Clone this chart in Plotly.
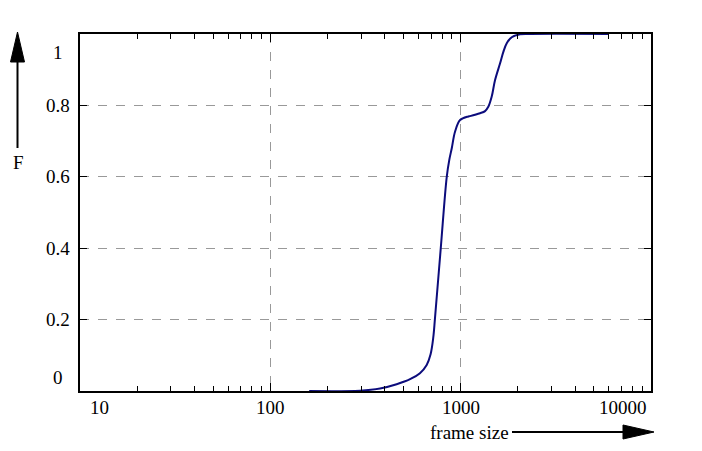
import numpy as np
import plotly.graph_objects as go

frame_size = [160, 296, 377, 461, 542, 611, 663, 695, 718, 733, 786, 845, 872, 898,
              934, 993, 1097, 1119, 1264, 1343, 1397, 1455, 1516, 1611, 1676, 1746,
              1855, 2050, 2312, 6000]
F = [0.0, 0.001, 0.007, 0.019, 0.033, 0.050, 0.073, 0.103, 0.150, 0.204, 0.400,
     0.600, 0.648, 0.680, 0.726, 0.759, 0.769, 0.770, 0.778, 0.784, 0.796, 0.824,
     0.871, 0.918, 0.950, 0.974, 0.991, 0.999, 1.0, 1.0]

x_ticks = [10, 100, 1000, 10000]
x_labels = ["10", "100", "1000", "10000"]
y_ticks = [0, 0.2, 0.4, 0.6, 0.8, 1]
y_labels = ["0", "0.2", "0.4", "0.6", "0.8", "1"]

# page body has an 8px margin, so the figure is a bit smaller than the window
OFF = 8
W, H = 702 - OFF, 451 - OFF
L, R, T, B = 80 - OFF, 51, 34 - OFF, 60
pw, ph = W - L - R, H - T - B
font = dict(family="Liberation Serif, Times New Roman, DejaVu Serif, serif", size=19,
            color="black")


def px(x):
    # window pixel -> paper x
    return (x - OFF - L) / pw


def py(y):
    # window pixel -> paper y
    return (H - B - (y - OFF)) / ph


fig = go.Figure()
fig.add_trace(go.Scatter(x=frame_size, y=F, mode="lines",
                         line=dict(color="#0c0c7c", width=2, shape="spline", smoothing=1.0),
                         showlegend=False, cliponaxis=False))

axis_common = dict(showline=True, linecolor="black", linewidth=2, mirror="ticks",
                   ticks="inside", tickcolor="black", showticklabels=False,
                   gridcolor="#999999", griddash="dash", gridwidth=1, zeroline=False)

fig.update_xaxes(type="log", range=[1, 4], tickvals=x_ticks, ticklen=8, tickwidth=1,
                 minor=dict(ticks="inside", ticklen=5, tickcolor="black", dtick="D1",
                            showgrid=False),
                 **axis_common)
fig.update_yaxes(range=[0, 1], tickvals=y_ticks, ticklen=7, tickwidth=1, **axis_common)

ann = []
# x tick labels, edge ones pulled inside the frame
x_shift = {"10": 19, "10000": -28}
for v, t in zip(x_ticks, x_labels):
    ann.append(dict(x=np.log10(v), xref="x", y=0, yref="paper", text=t, showarrow=False,
                    xanchor="center", yanchor="middle", yshift=-16,
                    xshift=x_shift.get(t, 0), font=font))
y_shift = {"0": 14, "1": -18}
for v, t in zip(y_ticks, y_labels):
    ann.append(dict(x=px(58), xref="paper", y=v, yref="y", text=t, showarrow=False,
                    xanchor="center", yanchor="middle", yshift=y_shift.get(t, 0), font=font))

ann.append(dict(x=px(18), y=py(162), xref="paper", yref="paper", text="F", showarrow=False,
                xanchor="center", yanchor="middle", font=font))
ann.append(dict(x=px(511), y=py(432), xref="paper", yref="paper", text="frame size",
                showarrow=False, xanchor="right", yanchor="middle", font=font))

shapes = [
    dict(type="line", xref="paper", yref="paper", x0=px(17.5), x1=px(17.5),
         y0=py(148), y1=py(60), line=dict(color="black", width=2)),
    dict(type="path", xref="paper", yref="paper", fillcolor="black",
         line=dict(color="black", width=1),
         path=f"M {px(17.5)} {py(32)} L {px(10.5)} {py(62)} L {px(24.5)} {py(62)} Z"),
    dict(type="line", xref="paper", yref="paper", x0=px(512), x1=px(626),
         y0=py(432), y1=py(432), line=dict(color="black", width=2)),
    dict(type="path", xref="paper", yref="paper", fillcolor="black",
         line=dict(color="black", width=1),
         path=f"M {px(654)} {py(432)} L {px(623)} {py(425)} L {px(623)} {py(439)} Z"),
]

fig.update_layout(width=W, height=H, margin=dict(l=L, r=R, t=T, b=B),
                  paper_bgcolor="white", plot_bgcolor="white",
                  annotations=ann, shapes=shapes, font=font)

fig.write_html("out.html")
